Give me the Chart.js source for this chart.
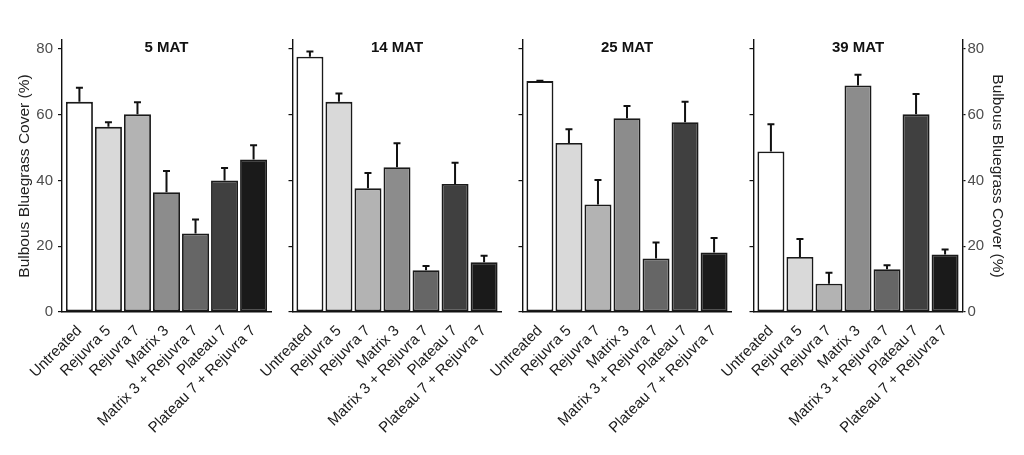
<!DOCTYPE html>
<html>
<head>
<meta charset="utf-8">
<script src="https://cdn.jsdelivr.net/npm/chart.js@4"></script>
<style>
  body { margin: 0; background: #fff; }
  #wrap { position: relative; width: 1024px; height: 455px; }
  #wrap canvas { position: absolute; left: 0; top: 0; }
</style>
</head>
<body>
<div id="wrap">
  <canvas id="p5" width="1024" height="455"></canvas>
  <canvas id="p14" width="1024" height="455"></canvas>
  <canvas id="p25" width="1024" height="455"></canvas>
  <canvas id="p39" width="1024" height="455"></canvas>
</div>
<script>
// Datos
var tratamientos = ['Untreated', 'Rejuvra 5', 'Rejuvra 7', 'Matrix 3', 'Matrix 3 + Rejuvra 7', 'Plateau 7', 'Plateau 7 + Rejuvra 7'];
var titulos = ['5 MAT', '14 MAT', '25 MAT', '39 MAT'];
var ticksY = [0, 20, 40, 60, 80];

var media5 = [63.9, 56.3, 60.1, 36.4, 23.9, 40.0, 46.4];
var error5 = [4.3, 1.4, 3.7, 6.5, 4.2, 3.8, 4.3];
var media14 = [77.6, 63.9, 37.6, 44.0, 12.7, 38.9, 15.1];
var error14 = [1.6, 2.5, 4.7, 7.3, 1.3, 6.5, 2.0];
var media25 = [70.2, 51.4, 32.7, 58.9, 16.3, 57.7, 18.1];
var error25 = [0.1, 4.2, 7.4, 3.7, 4.8, 6.2, 4.4];
var media39 = [48.8, 16.7, 8.6, 68.9, 13.0, 60.1, 17.5];
var error39 = [8.3, 5.5, 3.3, 3.2, 1.2, 6.2, 1.5];

var grises = ['#ffffff', '#d9d9d9', '#b3b3b3', '#8c8c8c', '#666666', '#404040', '#1a1a1a'];
var tituloEje = 'Bulbous Bluegrass Cover (%)';

Chart.defaults.font.family = '"Liberation Sans", Arial, sans-serif';

// Posiciones de cada panel (borde izquierdo del area de dibujo)
var bordeIzq = [62, 292.5, 522.5, 753.5];
var anchoPanel = 209;

// Barras de error (solo hacia arriba)
var barrasError = {
    id: 'barrasError',
    afterDatasetsDraw: function(chart) {
        var ctx = chart.ctx;
        var y = chart.scales.y;
        var ds = chart.data.datasets[0];
        var barras = chart.getDatasetMeta(0).data;
        ctx.save();
        ctx.strokeStyle = '#111';
        ctx.lineWidth = 2;
        barras.forEach(function(b, i) {
            var arriba = y.getPixelForValue(ds.data[i].y + ds.errores[i]);
            ctx.beginPath();
            ctx.moveTo(b.x, b.y);
            ctx.lineTo(b.x, arriba);
            ctx.moveTo(b.x - 3.5, arriba);
            ctx.lineTo(b.x + 3.5, arriba);
            ctx.stroke();
        });
        ctx.restore();
    }
};

// Titulo dentro del panel
var tituloPanel = {
    id: 'tituloPanel',
    afterDraw: function(chart, args, opts) {
        var a = chart.chartArea;
        var ctx = chart.ctx;
        ctx.save();
        ctx.font = 'bold 15px "Liberation Sans", Arial, sans-serif';
        ctx.fillStyle = '#111';
        ctx.textAlign = 'center';
        ctx.textBaseline = 'middle';
        ctx.fillText(opts.texto, (a.left + a.right) / 2, a.top + 8);
        ctx.restore();
    }
};

function dibujarPanel(id, k, medias, errores) {
    var primero = k === 0;
    var ultimo = k === 3;
    var anchoIzq = primero ? 62 : 30;
    var anchoDer = ultimo ? 61.5 : 0;
    var izq = bordeIzq[k];
    var der = izq + anchoPanel;

    var puntos = medias.map(function(v, i) { return { x: i, y: v }; });

    var escalas = {
        x: {
            type: 'linear',
            min: -0.6,
            max: tratamientos.length - 0.4,
            offset: false,
            afterBuildTicks: function(s) {
                s.ticks = tratamientos.map(function(t, i) { return { value: i }; });
            },
            afterFit: function(s) { s.height = 455 - 312; },
            ticks: {
                autoSkip: false,
                minRotation: 45,
                maxRotation: 45,
                padding: 2,
                color: '#1a1a1a',
                font: { size: 15 },
                callback: function(v) { return tratamientos[v]; }
            },
            grid: { display: false, offset: false },
            border: { display: true, color: '#111', width: 1.4 }
        },
        y: {
            position: 'left',
            min: 0,
            max: 82.7,
            afterFit: function(s) { s.width = anchoIzq; },
            afterBuildTicks: function(s) {
                s.ticks = ticksY.map(function(v) { return { value: v }; });
            },
            ticks: {
                display: primero,
                padding: 5,
                color: '#4d4d4d',
                font: { size: 15 }
            },
            grid: { drawOnChartArea: false, drawTicks: true, tickLength: 4, color: '#111', lineWidth: 1.2 },
            border: { display: true, color: '#111', width: 1.4 },
            title: {
                display: primero,
                text: tituloEje,
                color: '#222',
                font: { size: 15.5 },
                padding: { top: 15, bottom: 0 }
            }
        }
    };

    if (ultimo) {
        escalas.y2 = {
            position: 'right',
            min: 0,
            max: 82.7,
            afterFit: function(s) { s.width = anchoDer; },
            afterBuildTicks: function(s) {
                s.ticks = ticksY.map(function(v) { return { value: v }; });
            },
            ticks: { padding: 2, color: '#4d4d4d', font: { size: 15 } },
            grid: { drawOnChartArea: false, drawTicks: true, tickLength: 3, color: '#111', lineWidth: 1.2 },
            border: { display: true, color: '#111', width: 1.4 },
            title: {
                display: true,
                text: tituloEje,
                color: '#222',
                font: { size: 15.5 },
                padding: { top: 17.5, bottom: 0 }
            }
        };
    }

    var ctx = document.getElementById(id).getContext('2d');
    var chart = new Chart(ctx, {
        type: 'bar',
        data: {
            datasets: [{
                data: puntos,
                errores: errores,
                yAxisID: 'y',
                backgroundColor: grises,
                borderColor: '#1a1a1a',
                borderWidth: 1.8,
                borderSkipped: false,
                categoryPercentage: 1,
                barPercentage: 0.93
            }]
        },
        options: {
            responsive: false,
            animation: false,
            devicePixelRatio: 1,
            layout: {
                padding: { left: izq - anchoIzq, right: 1024 - der - anchoDer, top: 40, bottom: 0 }
            },
            scales: escalas,
            plugins: {
                legend: { display: false },
                tooltip: { enabled: false },
                tituloPanel: { texto: titulos[k] }
            }
        },
        plugins: [barrasError, tituloPanel]
    });
}

dibujarPanel('p5', 0, media5, error5);
dibujarPanel('p14', 1, media14, error14);
dibujarPanel('p25', 2, media25, error25);
dibujarPanel('p39', 3, media39, error39);
</script>
</body>
</html>
